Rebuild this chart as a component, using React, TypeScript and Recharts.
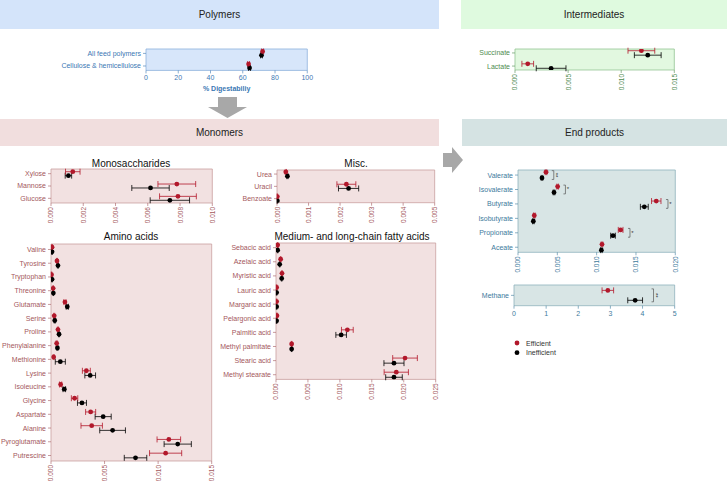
import React from "react";
import {
    ScatterChart,
    Scatter,
    XAxis,
    YAxis,
    ErrorBar,
    ReferenceArea,
} from "recharts";

// ---- data ----
const polyNames = ["All feed polymers", "Cellulose & hemicellulose"];
const polyEff = [72.3, 63.6];
const polyEffErr = [0.6, 0.6];
const polyIneff = [71.6, 64.2];
const polyIneffErr = [0.6, 0.6];

const interNames = ["Succinate", "Lactate"];
const interEff = [0.0119, 0.0012];
const interEffErr = [0.00126, 0.00055];
const interIneff = [0.0125, 0.0034];
const interIneffErr = [0.00126, 0.0014];

const monoNames = ["Xylose", "Mannose", "Glucose"];
const monoEff = [0.00135, 0.0078, 0.00787];
const monoEffErr = [0.00045, 0.00117, 0.00114];
const monoIneff = [0.00108, 0.00617, 0.00737];
const monoIneffErr = [0.0002, 0.00116, 0.00122];

const miscNames = ["Urea", "Uracil", "Benzoate"];
const miscEff = [0.00028, 0.0022, 0.00001];
const miscEffErr = [0.00002, 0.0003, 0.00001];
const miscIneff = [0.00033, 0.00227, 0.00001];
const miscIneffErr = [0.00002, 0.00032, 0.00001];

const aminoNames = [
    "Valine", "Tyrosine", "Tryptophan", "Threonine", "Glutamate", "Serine",
    "Proline", "Phenylalanine", "Methionine", "Lysine", "Isoleucine", "Glycine",
    "Aspartate", "Alanine", "Pyroglutamate", "Putrescine",
];
const aminoEff = [0.0001, 0.00056, 0.00005, 0.0002, 0.0013, 0.0003, 0.00065, 0.00053, 0.00025, 0.0033, 0.0009, 0.0022, 0.0037, 0.0038, 0.011, 0.0107];
const aminoEffErr = [0.00003, 0.00005, 0.00003, 0.00003, 0.0001, 0.00005, 0.00005, 0.00005, 0.00005, 0.00037, 0.0001, 0.0003, 0.00047, 0.001, 0.0011, 0.0015];
const aminoIneff = [0.0001, 0.00065, 0.0001, 0.00022, 0.00152, 0.00035, 0.00075, 0.0006, 0.00087, 0.00366, 0.00124, 0.00289, 0.00487, 0.00575, 0.01183, 0.00789];
const aminoIneffErr = [0.00003, 0.00005, 0.00003, 0.00003, 0.0001, 0.00005, 0.00005, 0.00005, 0.00047, 0.0005, 0.00012, 0.00042, 0.00075, 0.0012, 0.00127, 0.00105];

const fattyNames = [
    "Sebacic acid", "Azelaic acid", "Myristic acid", "Lauric acid", "Margaric acid",
    "Pelargonic acid", "Palmitic acid", "Methyl palmitate", "Stearic acid", "Methyl stearate",
];
const fattyEff = [0.00026, 0.00073, 0.00094, 0.0001, 0.0001, 0.00015, 0.01117, 0.00245, 0.0202, 0.01883];
const fattyEffErr = [0.00005, 0.00005, 0.00005, 0.00005, 0.00005, 0.00005, 0.00092, 0.00005, 0.00193, 0.0019];
const fattyIneff = [0.00026, 0.00058, 0.00089, 0.0001, 0.0001, 0.0001, 0.0102, 0.00245, 0.01847, 0.01847];
const fattyIneffErr = [0.00005, 0.00005, 0.00005, 0.00005, 0.00005, 0.00005, 0.00083, 0.00005, 0.00157, 0.0013];

const endNames = ["Valerate", "Isovalerate", "Butyrate", "Isobutyrate", "Propionate", "Aceate"];
const endEff = [0.00356, 0.00504, 0.01758, 0.00207, 0.01305, 0.01068];
const endEffErr = [0.0001, 0.0001, 0.0006, 0.0001, 0.0003, 0.0001];
const endIneff = [0.00305, 0.00458, 0.01606, 0.00195, 0.01208, 0.0106];
const endIneffErr = [0.0001, 0.0001, 0.0005, 0.0001, 0.0003, 0.0001];
const endSig = ["**", "*", "*", "", "*", ""];

const methaneNames = ["Methane"];
const methaneEff = [2.92];
const methaneEffErr = [0.18];
const methaneIneff = [3.77];
const methaneIneffErr = [0.23];
const methaneSig = ["**"];

const polyTicks = [0, 20, 40, 60, 80, 100];
const interTicks = [0, 0.005, 0.01, 0.015];
const monoTicks = [0, 0.002, 0.004, 0.006, 0.008, 0.01];
const miscTicks = [0, 0.001, 0.002, 0.003, 0.004, 0.005];
const aminoTicks = [0, 0.005, 0.01, 0.015];
const fattyTicks = [0, 0.005, 0.01, 0.015, 0.02, 0.025];
const endTicks = [0, 0.005, 0.01, 0.015, 0.02];
const methaneTicks = [0, 1, 2, 3, 4, 5];

const RED = "#B2182B";
const FONT = '"Liberation Sans", Arial, Helvetica, sans-serif';

type Theme = { bg: string; border: string; text: string };
const blue: Theme = { bg: "#D7E6FA", border: "#8DB1DC", text: "#3C78B4" };
const green: Theme = { bg: "#E2F8E0", border: "#93C493", text: "#4E8B4E" };
const pink: Theme = { bg: "#F2E1E1", border: "#C9A0A0", text: "#A4585C" };
const teal: Theme = { bg: "#D8E5E5", border: "#8FB3BC", text: "#3D7A9C" };

const fmt3 = (v: number) => v.toFixed(3);
const fmt0 = (v: number) => String(Math.round(v));

type Box = { x0: number; y0: number; x1: number; y1: number };

interface PanelProps {
    names: string[];
    eff: number[];
    effErr: number[];
    ineff: number[];
    ineffErr: number[];
    sig?: string[];
    box: Box;
    labelW: number;
    domain: [number, number];
    ticks: number[];
    fmt: (v: number) => string;
    rotate?: boolean;
    pad: number;
    off: number;
    theme: Theme;
    xLabel?: string;
    gap?: number;
}

const DotPanel = (p: PanelProps) => {
    const { names, box, labelW, domain, theme, pad, off } = p;
    const n = names.length;
    const top = 6;
    const right = 12;
    const xH = p.rotate ? 26 : p.xLabel ? 22 : 14;
    const plotW = box.x1 - box.x0;
    const plotH = box.y1 - box.y0;
    const rowPx = plotH / (n - 1 + 2 * pad);
    const offPx = off * rowPx;

    const effData = names.map((name, i) => ({ name, x: p.eff[i], y: i - off, err: p.effErr[i] }));
    const ineffData = names.map((name, i) => ({ name, x: p.ineff[i], y: i + off, err: p.ineffErr[i] }));
    const sigData = (p.sig ?? [])
        .map((s, i) => ({
            s,
            x: Math.max(p.eff[i] + p.effErr[i], p.ineff[i] + p.ineffErr[i]),
            y: i,
        }))
        .filter((d) => d.s);

    const rotTick = (t: any) => (
        <text
            x={t.x}
            y={t.y - 1}
            transform={`rotate(-90 ${t.x} ${t.y - 1})`}
            textAnchor="end"
            dominantBaseline="central"
            fontSize={6.5}
            fill={theme.text}
        >
            {p.fmt(t.payload.value)}
        </text>
    );

    const yTick = (t: any) => (
        <text
            x={t.x}
            y={t.y}
            textAnchor="end"
            dominantBaseline="central"
            fontSize={7}
            fill={theme.text}
        >
            {names[t.payload.value] ?? ""}
        </text>
    );

    const gap = p.gap ?? 5;
    const sigShape = (s: any) => {
        const x = s.cx + gap;
        const h = offPx + 1.5;
        const stars = s.payload.s as string;
        return (
            <g>
                <path
                    d={`M${x},${s.cy - h} h2 v${2 * h} h-2`}
                    stroke="#555"
                    strokeWidth={0.7}
                    fill="none"
                />
                <text
                    x={x + 4.5}
                    y={s.cy}
                    transform={stars.length > 1 ? `rotate(90 ${x + 4.5} ${s.cy})` : undefined}
                    textAnchor="middle"
                    dominantBaseline="central"
                    fontSize={6}
                    fill="#333"
                >
                    {stars}
                </text>
            </g>
        );
    };

    return (
        <div style={{ position: "absolute", left: box.x0 - labelW, top: box.y0 - top }}>
            <ScatterChart
                width={labelW + plotW + right}
                height={top + plotH + xH}
                margin={{ top, right, left: 0, bottom: 0 }}
            >
                <XAxis
                    type="number"
                    dataKey="x"
                    domain={domain}
                    ticks={p.ticks}
                    interval={0}
                    allowDataOverflow
                    axisLine={false}
                    tickSize={3}
                    tickLine={{ stroke: theme.text, strokeWidth: 0.6 }}
                    height={xH}
                    tick={p.rotate ? rotTick : { fontSize: 7, fill: theme.text }}
                    tickFormatter={p.fmt}
                    label={
                        p.xLabel
                            ? {
                                  value: p.xLabel,
                                  position: "insideBottom",
                                  offset: 1,
                                  fill: theme.text,
                                  fontSize: 7,
                                  fontWeight: "bold",
                              }
                            : undefined
                    }
                />
                <YAxis
                    type="number"
                    dataKey="y"
                    domain={[-pad, n - 1 + pad]}
                    reversed
                    allowDataOverflow
                    ticks={names.map((_, i) => i)}
                    interval={0}
                    width={labelW}
                    axisLine={false}
                    tickSize={3}
                    tickLine={{ stroke: theme.text, strokeWidth: 0.6 }}
                    tick={yTick}
                />
                <ReferenceArea
                    x1={domain[0]}
                    x2={domain[1]}
                    y1={-pad}
                    y2={n - 1 + pad}
                    fill={theme.bg}
                    fillOpacity={1}
                    stroke={theme.border}
                    strokeWidth={0.8}
                />
                <Scatter
                    data={ineffData}
                    isAnimationActive={false}
                    shape={(s: any) => <circle cx={s.cx} cy={s.cy} r={2.4} fill="#000" />}
                >
                    <ErrorBar dataKey="err" direction="x" width={3} stroke="#000" strokeWidth={0.8} />
                </Scatter>
                <Scatter
                    data={effData}
                    isAnimationActive={false}
                    shape={(s: any) => <circle cx={s.cx} cy={s.cy} r={2.4} fill={RED} />}
                >
                    <ErrorBar dataKey="err" direction="x" width={3} stroke={RED} strokeWidth={0.8} />
                </Scatter>
                {sigData.length > 0 && (
                    <Scatter data={sigData} isAnimationActive={false} shape={sigShape} />
                )}
            </ScatterChart>
        </div>
    );
};

const Banner = ({ x, y, w, h, bg, text }: { x: number; y: number; w: number; h: number; bg: string; text: string }) => (
    <div
        style={{
            position: "absolute",
            left: x,
            top: y,
            width: w,
            height: h,
            background: bg,
            display: "flex",
            alignItems: "center",
            justifyContent: "center",
            fontSize: 10,
            color: "#222",
        }}
    >
        {text}
    </div>
);

const Title = ({ cx, cy, text }: { cx: number; cy: number; text: string }) => (
    <div
        style={{
            position: "absolute",
            left: cx - 120,
            top: cy - 7,
            width: 240,
            textAlign: "center",
            fontSize: 10,
            lineHeight: "14px",
            color: "#111",
        }}
    >
        {text}
    </div>
);

export default function App() {
    return (
        <div
            style={{
                position: "absolute",
                left: 0,
                top: 0,
                width: 727,
                height: 482,
                background: "#fff",
                fontFamily: FONT,
                overflow: "hidden",
            }}
        >
            <Banner x={0} y={0} w={439} h={29} bg="#D4E4FA" text="Polymers" />
            <Banner x={461} y={0} w={266} h={29} bg="#DFFADF" text="Intermediates" />
            <Banner x={0} y={119} w={439} h={27} bg="#F1DEDE" text="Monomers" />
            <Banner x={462} y={119} w={265} h={27} bg="#D5E3E3" text="End products" />

            <svg width={727} height={482} style={{ position: "absolute", left: 0, top: 0 }}>
                <polygon points="218,97 237,97 237,107 247,107 227.5,118 208,107 218,107" fill="#A8A8A8" />
                <polygon points="443,153 452,153 452,147 463,160 452,173 452,167 443,167" fill="#A8A8A8" />
            </svg>

            <Title cx={131} cy={164} text="Monosaccharides" />
            <Title cx={356} cy={164} text="Misc." />
            <Title cx={131} cy={237} text="Amino acids" />
            <Title cx={352} cy={237} text="Medium- and long-chain fatty acids" />

            <DotPanel
                names={polyNames} eff={polyEff} effErr={polyEffErr} ineff={polyIneff} ineffErr={polyIneffErr}
                box={{ x0: 146, y0: 49.3, x1: 307.3, y1: 70.7 }} labelW={140}
                domain={[0, 100]} ticks={polyTicks} fmt={fmt0} pad={0.35} off={0.155}
                theme={blue} xLabel="% Digestabiliy"
            />
            <DotPanel
                names={interNames} eff={interEff} effErr={interEffErr} ineff={interIneff} ineffErr={interIneffErr}
                box={{ x0: 515, y0: 49, x1: 674.3, y1: 70 }} labelW={40}
                domain={[0, 0.015]} ticks={interTicks} fmt={fmt3} rotate pad={0.3} off={0.17}
                theme={green}
            />
            <DotPanel
                names={monoNames} eff={monoEff} effErr={monoEffErr} ineff={monoIneff} ineffErr={monoIneffErr}
                box={{ x0: 51, y0: 169, x1: 212.3, y1: 203 }} labelW={48}
                domain={[0, 0.01]} ticks={monoTicks} fmt={fmt3} rotate pad={0.38} off={0.16}
                theme={pink}
            />
            <DotPanel
                names={miscNames} eff={miscEff} effErr={miscEffErr} ineff={miscIneff} ineffErr={miscIneffErr}
                box={{ x0: 277.3, y0: 170, x1: 435, y1: 202.7 }} labelW={35}
                domain={[0, 0.005]} ticks={miscTicks} fmt={fmt3} rotate pad={0.33} off={0.17}
                theme={pink}
            />
            <DotPanel
                names={aminoNames} eff={aminoEff} effErr={aminoEffErr} ineff={aminoIneff} ineffErr={aminoIneffErr}
                box={{ x0: 51, y0: 244, x1: 211.7, y1: 461 }} labelW={51}
                domain={[0, 0.015]} ticks={aminoTicks} fmt={fmt3} rotate pad={0.4} off={0.17}
                theme={pink}
            />
            <DotPanel
                names={fattyNames} eff={fattyEff} effErr={fattyEffErr} ineff={fattyIneff} ineffErr={fattyIneffErr}
                box={{ x0: 276, y0: 243.3, x1: 435.7, y1: 379.7 }} labelW={58}
                domain={[0, 0.025]} ticks={fattyTicks} fmt={fmt3} rotate pad={0.33} off={0.18}
                theme={pink}
            />
            <DotPanel
                names={endNames} eff={endEff} effErr={endEffErr} ineff={endIneff} ineffErr={endIneffErr}
                sig={endSig}
                box={{ x0: 517.7, y0: 170, x1: 675, y1: 252.3 }} labelW={44}
                domain={[0, 0.02]} ticks={endTicks} fmt={fmt3} rotate pad={0.35} off={0.2}
                theme={teal} gap={5}
            />
            <DotPanel
                names={methaneNames} eff={methaneEff} effErr={methaneEffErr} ineff={methaneIneff} ineffErr={methaneIneffErr}
                sig={methaneSig}
                box={{ x0: 514.3, y0: 285, x1: 675, y1: 305.7 }} labelW={44}
                domain={[0, 5]} ticks={methaneTicks} fmt={fmt0} pad={0.5} off={0.24}
                theme={teal} gap={9}
            />

            <svg width={120} height={30} style={{ position: "absolute", left: 510, top: 336 }}>
                <circle cx={7} cy={7} r={2.4} fill={RED} />
                <text x={16} y={9.5} fontSize={7} fill="#333">Efficient</text>
                <circle cx={7} cy={16.7} r={2.4} fill="#000" />
                <text x={16} y={19.2} fontSize={7} fill="#333">Inefficient</text>
            </svg>
        </div>
    );
}
